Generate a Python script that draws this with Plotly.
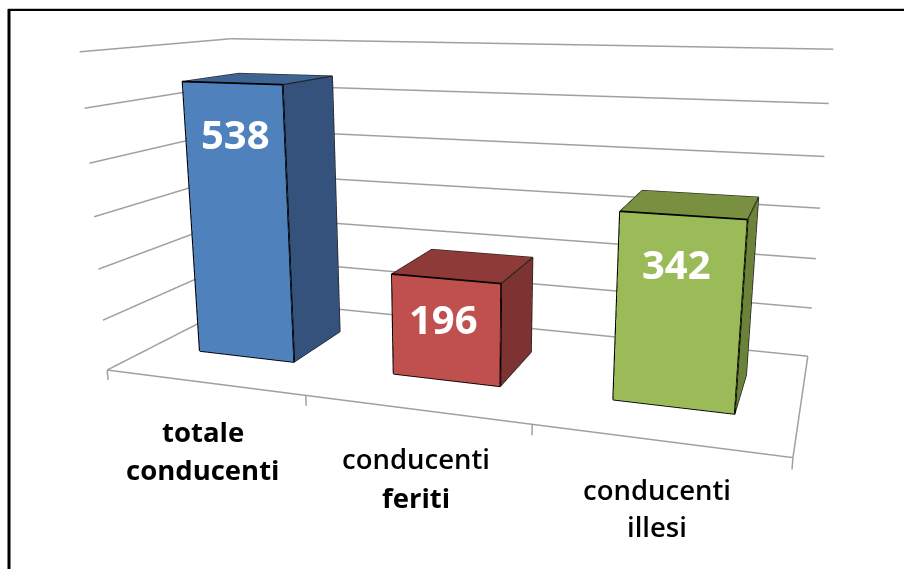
"""3D column chart of drivers (totale / feriti / illesi), drawn on a Plotly scene."""

import plotly.graph_objects as go

categories = [["totale", "conducenti"], ["conducenti", "feriti"], ["conducenti", "illesi"]]
values = [538, 196, 342]
wall_levels = [0, 100, 200, 300, 400, 500, 600]

FRONT_COLORS = ["#4F81BD", "#C0504D", "#9BBB59"]
SIDE_COLORS = ["#34527C", "#7D3331", "#6B8239"]
TOP_COLORS = ["#3E6494", "#8E3A38", "#78903F"]
GRID_COLOR = "#a0a0a0"

# Screen size; the scene is larger than the window so its focal length matches.
WIN_W, WIN_H = 904, 569
FIG_W, FIG_H = 929, 928
TOP_CROP = 182

BAR_HALF = 0.251
BAR_Y0, BAR_Y1 = 0.304, 0.707
TICK_DROP = -20


def paper_x(px):
    return px / FIG_W


def paper_y(py):
    return 1 - (py + TOP_CROP) / FIG_H


fig = go.Figure()

edge_x, edge_y, edge_z = [], [], []
front_x, front_y, front_z = [], [], []
for n, value in enumerate(values):
    left, right = n + 0.5 - BAR_HALF, n + 0.5 + BAR_HALF
    fig.add_trace(
        go.Mesh3d(
            x=[left, right, right, left] * 2,
            y=[BAR_Y0, BAR_Y0, BAR_Y1, BAR_Y1] * 2,
            z=[0] * 4 + [value] * 4,
            i=[0, 0, 1, 1, 4, 4],
            j=[1, 5, 2, 6, 5, 6],
            k=[5, 4, 6, 5, 6, 7],
            facecolor=[FRONT_COLORS[n]] * 2 + [SIDE_COLORS[n]] * 2 + [TOP_COLORS[n]] * 2,
            flatshading=True,
            lighting={"ambient": 1, "diffuse": 0, "specular": 0, "fresnel": 0, "roughness": 1},
            hoverinfo="skip",
            showscale=False,
        )
    )
    front_x += [left, right, right, left, left, None]
    front_y += [BAR_Y0] * 5 + [None]
    front_z += [0, 0, value, value, 0, None]
    # Top back edges, then the lower edge and back edge of the side face.
    edge_x += [left, left, right, right, None, right, right, right, None]
    edge_y += [BAR_Y0, BAR_Y1, BAR_Y1, BAR_Y0, None, BAR_Y0, BAR_Y1, BAR_Y1, None]
    edge_z += [value, value, value, value, None, 0, 0, value, None]

grid_x, grid_y, grid_z = [], [], []
for level in wall_levels:
    grid_x += [0, 0, 3, None]
    grid_y += [0, 1, 1, None]
    grid_z += [level, level, level, None]
grid_x += [0, 3, 3, None]
grid_y += [0, 0, 1, None]
grid_z += [0, 0, 0, None]
for tick in range(len(values) + 1):
    grid_x += [tick, tick, None]
    grid_y += [0, 0, None]
    grid_z += [0, TICK_DROP, None]

fig.add_trace(
    go.Scatter3d(
        x=grid_x, y=grid_y, z=grid_z,
        mode="lines",
        line={"color": GRID_COLOR, "width": 3},
        hoverinfo="skip",
        showlegend=False,
    )
)
fig.add_trace(
    go.Scatter3d(
        x=edge_x, y=edge_y, z=edge_z,
        mode="lines",
        line={"color": "#222222", "width": 2.5},
        hoverinfo="skip",
        showlegend=False,
    )
)
fig.add_trace(
    go.Scatter3d(
        x=front_x, y=front_y, z=front_z,
        mode="lines",
        line={"color": "#000000", "width": 3.5},
        hoverinfo="skip",
        showlegend=False,
    )
)

annotations = []
value_centres = [(235, 134), (443, 319), (676, 263)]
for value, (cx, cy) in zip(values, value_centres):
    annotations.append(
        {
            "x": paper_x(cx), "y": paper_y(cy),
            "xref": "paper", "yref": "paper",
            "xanchor": "center", "yanchor": "middle",
            "showarrow": False,
            "text": str(value),
            "font": {"family": "Open Sans", "size": 40, "color": "white", "weight": 700},
        }
    )
label_centres = [(203, 431, 469), (416, 458, 497), (657, 489, 526)]
label_weights = [(700, 700), (600, 700), (600, 600)]
for lines, (cx, y1, y2), weights in zip(categories, label_centres, label_weights):
    for line, cy, weight in zip(lines, (y1, y2), weights):
        annotations.append(
            {
                "x": paper_x(cx), "y": paper_y(cy),
                "xref": "paper", "yref": "paper",
                "xanchor": "center", "yanchor": "middle",
                "showarrow": False,
                "text": line,
                "font": {"family": "Open Sans", "size": 27.5, "color": "black", "weight": weight},
            }
        )

frame = [
    {"x0": 9, "x1": 9, "y0": 9, "y1": WIN_H + 5, "color": "black", "width": 3},
    {"x0": 8, "x1": WIN_W + 5, "y0": 10, "y1": 10, "color": "black", "width": 2},
    {"x0": 8, "x1": WIN_W + 5, "y0": 8.5, "y1": 8.5, "color": "#c4c4c4", "width": 1},
]
shapes = [
    {
        "type": "line", "xref": "paper", "yref": "paper",
        "x0": paper_x(f["x0"]), "x1": paper_x(f["x1"]),
        "y0": paper_y(f["y0"]), "y1": paper_y(f["y1"]),
        "line": {"color": f["color"], "width": f["width"]},
    }
    for f in frame
]

fig.update_layout(
    width=FIG_W,
    height=FIG_H,
    margin={"l": 0, "r": 0, "t": 0, "b": 0},
    paper_bgcolor="white",
    showlegend=False,
    annotations=annotations,
    shapes=shapes,
    scene={
        "domain": {"x": [0, 1], "y": [0, 1]},
        "xaxis": {"visible": False, "range": [0, 3]},
        "yaxis": {"visible": False, "range": [0, 1]},
        "zaxis": {"visible": False, "range": [TICK_DROP, 602]},
        "aspectmode": "manual",
        "aspectratio": {"x": 2.048, "y": 0.844, "z": 1.0032},
        "camera": {
            "eye": {"x": 1.090, "y": -3.170, "z": 0.6864},
            "center": {"x": 0.002, "y": 0, "z": -0.2046},
            "up": {"x": 0, "y": 0, "z": 1},
            "projection": {"type": "perspective"},
        },
    },
)
fig.write_html(
    "out.html",
    config={"displayModeBar": False},
    post_script=(
        f"document.body.style.margin='-{TOP_CROP}px 0 0 0';"
        "document.documentElement.style.overflow='hidden';"
    ),
)
